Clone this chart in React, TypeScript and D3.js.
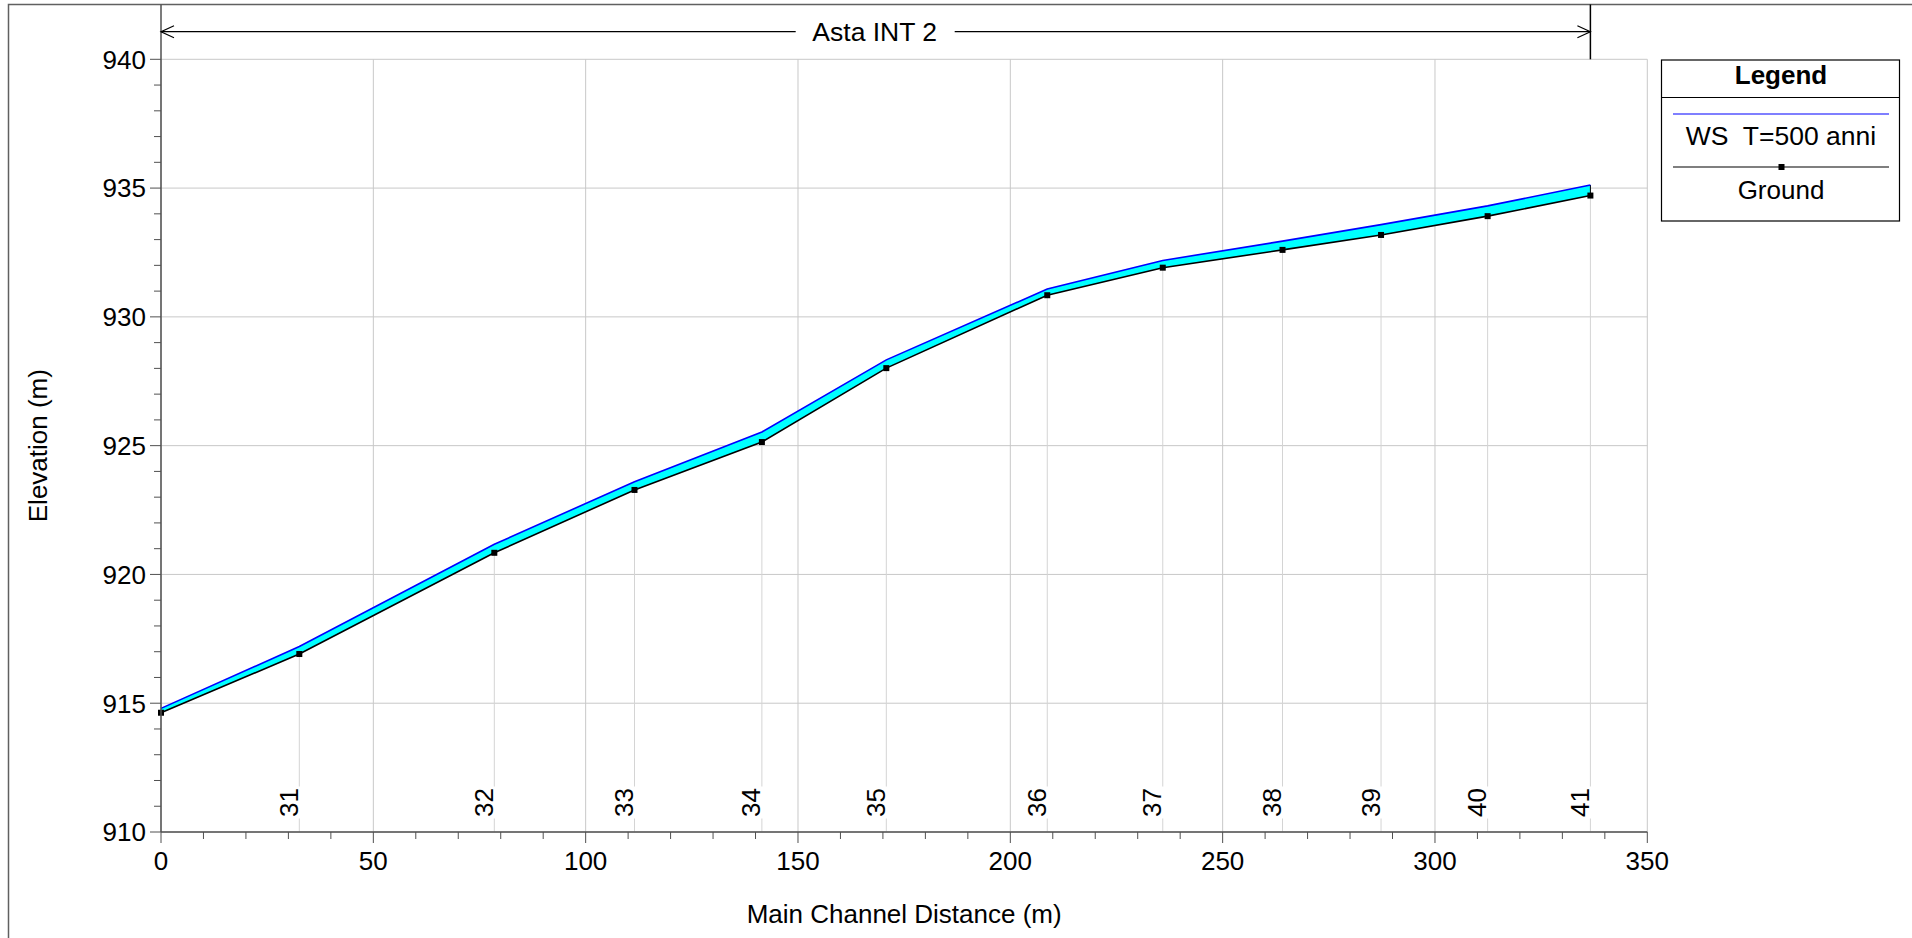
import React from "react";
import * as d3 from "d3";

const stationDist = [0, 32.57, 78.49, 111.5, 141.5, 170.8, 208.7, 235.9, 264.1, 287.3, 312.4, 336.6];
const stationNames = ["", "31", "32", "33", "34", "35", "36", "37", "38", "39", "40", "41"];
const groundElev = [914.63, 916.91, 920.84, 923.28, 925.14, 928.01, 930.84, 931.91, 932.6, 933.18, 933.91, 934.71];
const wsElev = [914.8, 917.2, 921.17, 923.6, 925.53, 928.33, 931.08, 932.19, 932.94, 933.58, 934.31, 935.12];
const xTicks = [0, 50, 100, 150, 200, 250, 300, 350];
const yTicks = [910, 915, 920, 925, 930, 935, 940];
const reachName = "Asta INT 2";
const xTitle = "Main Channel Distance (m)";
const yTitle = "Elevation (m)";
const legendTitle = "Legend";
const wsLabel = "WS  T=500 anni";
const groundLabel = "Ground";

const FONT = "'Liberation Sans', Arial, sans-serif";

export default function App() {
  const x = d3.scaleLinear().domain([0, 350]).range([161, 1647.3]);
  const y = d3.scaleLinear().domain([910, 940]).range([832, 59.3]);
  const pts = stationDist.map((d, i) => ({ d, g: groundElev[i], w: wsElev[i] }));
  const area = d3
    .area<any>()
    .x((p) => x(p.d))
    .y0((p) => y(p.g))
    .y1((p) => y(p.w));
  const gLine = d3.line<any>().x((p) => x(p.d)).y((p) => y(p.g));
  const wLine = d3.line<any>().x((p) => x(p.d)).y((p) => y(p.w));
  const yMinor = d3.range(910, 941, 1);
  const xMinor = d3.range(0, 351, 10);
  const x0 = x(0);
  const xEnd = x(stationDist[stationDist.length - 1]);
  const y0 = y(910);
  const yTop = y(940);
  const axisCol = "#505050";
  const gridCol = "#c8c8c8";
  const stCol = "#d4d4d4";
  const arrowY = 31.7;
  const midX = (x0 + xEnd) / 2;

  return (
    <svg
      width={1912}
      height={938}
      style={{ position: "absolute", left: 0, top: 0, display: "block", background: "#fff" }}
      fontFamily={FONT}
    >
      <rect x={0} y={0} width={1912} height={938} fill="#fff" />
      <rect x={8.5} y={4.5} width={1920} height={960} fill="none" stroke="#606060" strokeWidth={1.5} />

      {yTicks.map((v) => (
        <line key={"gy" + v} x1={x0} x2={x(350)} y1={y(v)} y2={y(v)} stroke={gridCol} strokeWidth={1} />
      ))}
      {xTicks.map((v) => (
        <line key={"gx" + v} x1={x(v)} x2={x(v)} y1={yTop} y2={y0} stroke={gridCol} strokeWidth={1} />
      ))}

      {pts.map((p, i) =>
        stationNames[i] ? (
          <g key={"st" + i}>
            <line x1={x(p.d)} x2={x(p.d)} y1={y(p.g)} y2={786.5} stroke={stCol} strokeWidth={1} />
            <line x1={x(p.d)} x2={x(p.d)} y1={818.5} y2={y0} stroke={stCol} strokeWidth={1} />
            <text
              transform={`translate(${x(p.d) - 1.5},${817}) rotate(-90)`}
              fontSize={26}
              fill="#000"
              textAnchor="start"
            >
              {stationNames[i]}
            </text>
          </g>
        ) : null
      )}

      <path d={area(pts) || ""} fill="#00ffff" stroke="none" />
      <line x1={xEnd} x2={xEnd} y1={y(wsElev[wsElev.length - 1])} y2={y(groundElev[groundElev.length - 1])} stroke="#000" strokeWidth={1} />
      <path d={wLine(pts) || ""} fill="none" stroke="#0000ff" strokeWidth={1.6} />
      <path d={gLine(pts) || ""} fill="none" stroke="#000" strokeWidth={1.6} />
      {pts.map((p, i) => (
        <rect key={"m" + i} x={x(p.d) - 3} y={y(p.g) - 3} width={6} height={6} fill="#000" />
      ))}

      <line x1={x0} x2={x0} y1={4.5} y2={y0} stroke={axisCol} strokeWidth={1.5} />
      <line x1={x0} x2={x(350)} y1={y0} y2={y0} stroke={axisCol} strokeWidth={1.5} />
      {yMinor.map((v) => (
        <line key={"ym" + v} x1={x0 - (v % 5 === 0 ? 11 : 7)} x2={x0} y1={y(v)} y2={y(v)} stroke={axisCol} strokeWidth={1} />
      ))}
      {xMinor.map((v) => (
        <line key={"xm" + v} x1={x(v)} x2={x(v)} y1={y0} y2={y0 + (v % 50 === 0 ? 11 : 7)} stroke={axisCol} strokeWidth={1} />
      ))}
      {yTicks.map((v) => (
        <text key={"yl" + v} x={146} y={y(v)} dy="0.36em" textAnchor="end" fontSize={26} fill="#000">
          {v}
        </text>
      ))}
      {xTicks.map((v) => (
        <text key={"xl" + v} x={x(v)} y={870} textAnchor="middle" fontSize={26} fill="#000">
          {v}
        </text>
      ))}
      <text x={(x0 + x(350)) / 2} y={923} textAnchor="middle" fontSize={26} fill="#000">
        {xTitle}
      </text>
      <text transform={`translate(47,${(y0 + yTop) / 2}) rotate(-90)`} textAnchor="middle" fontSize={26} fill="#000">
        {yTitle}
      </text>

      <line x1={xEnd} x2={xEnd} y1={4.5} y2={yTop} stroke="#000" strokeWidth={1.5} />
      <line x1={x0} x2={midX - 80} y1={arrowY} y2={arrowY} stroke="#000" strokeWidth={1.2} />
      <line x1={midX + 79} x2={xEnd} y1={arrowY} y2={arrowY} stroke="#000" strokeWidth={1.2} />
      <path d={`M${x0 + 13},${arrowY - 6} L${x0},${arrowY} L${x0 + 13},${arrowY + 6}`} fill="none" stroke="#000" strokeWidth={1.2} />
      <path d={`M${xEnd - 13},${arrowY - 6} L${xEnd},${arrowY} L${xEnd - 13},${arrowY + 6}`} fill="none" stroke="#000" strokeWidth={1.2} />
      <text x={midX - 1} y={arrowY + 9.5} textAnchor="middle" fontSize={26.5} fill="#000">
        {reachName}
      </text>

      <rect x={1661.5} y={60} width={238} height={161} fill="#fff" stroke="#000" strokeWidth={1.2} />
      <line x1={1661.5} x2={1900} y1={97.5} y2={97.5} stroke="#000" strokeWidth={1.2} />
      <text x={1781} y={84} textAnchor="middle" fontSize={26} fontWeight="bold" fill="#000">
        {legendTitle}
      </text>
      <line x1={1673} x2={1889} y1={114} y2={114} stroke="#0000ff" strokeWidth={1.2} />
      <text x={1781} y={145} textAnchor="middle" fontSize={26.5} fill="#000" style={{ whiteSpace: "pre" }}>
        {wsLabel}
      </text>
      <line x1={1673} x2={1889} y1={167} y2={167} stroke="#000" strokeWidth={1.2} />
      <rect x={1778.5} y={164} width={6} height={6} fill="#000" />
      <text x={1781} y={199} textAnchor="middle" fontSize={26} fill="#000">
        {groundLabel}
      </text>
    </svg>
  );
}
